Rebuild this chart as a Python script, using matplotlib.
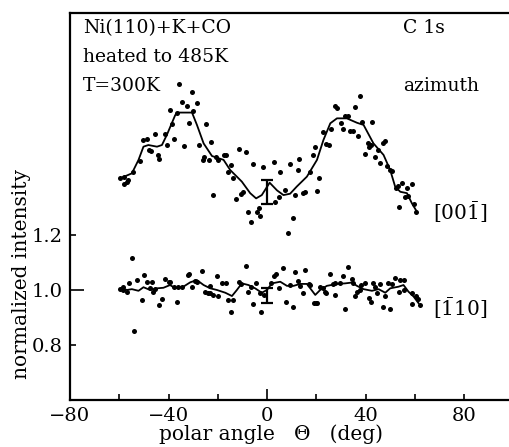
import matplotlib.pyplot as plt

plt.rcParams['font.family'] = ['DejaVu Serif']
plt.rcParams['mathtext.fontset'] = 'dejavuserif'

# [001] azimuth (offset upward), measured points
ang_001 = [-35.6, -30.5, -34.6, -32.6, -28.5, -39.6, -36.6, -29.9, -31.6, -24.7,
           -38.7, -41.4, -45.4, -37.7, -33.7, -40.7, -48.8, -50.2, -27.5, -22.8,
           -47.2, -48.1, -44.5, -43.7, -51.8, -25.8, -26.1, -23.8, -20.7, -20.0,
           -54.5, -59.6, -58.0, -56.9, -57.9, -56.3, -21.8,
           -17.7, -16.6, -14.7, -15.7, -13.7, -11.6, -8.5, -5.6, -1.7, 2.6,
           5.3, 9.3, 13.1, 12.3, 18.5, 19.5, -9.9, -10.7, -12.6, -7.8,
           -4.2, -3.5, -2.8, -6.6, 3.2, 4.6, 7.3, 10.4, 8.4, 11.4,
           14.7, 15.4, 17.4, 20.4, 21.2,
           37.7, 27.6, 28.3, 35.7, 31.6, 32.6, 29.9, 38.4, 42.5, 25.8,
           30.6, 33.7, 34.8, 36.8, 22.6, 23.9, 24.9, 40.7, 41.5, 42.1,
           47.9, 46.9, 39.8, 43.8, 45.8, 44.9, 48.8, 49.9, 50.6, 52.3,
           52.9, 54.6, 56.6, 58.7, 56.0, 57.3, 53.6, 59.6, 60.5]
int_001 = [1.749, 1.721, 1.683, 1.670, 1.679, 1.655, 1.643, 1.652, 1.606, 1.604,
           1.604, 1.567, 1.566, 1.548, 1.525, 1.527, 1.549, 1.545, 1.527, 1.539,
           1.507, 1.509, 1.491, 1.475, 1.470, 1.483, 1.473, 1.473, 1.483, 1.473,
           1.430, 1.406, 1.410, 1.394, 1.385, 1.400, 1.345,
           1.490, 1.490, 1.455, 1.428, 1.406, 1.513, 1.503, 1.457, 1.448, 1.464,
           1.430, 1.458, 1.476, 1.436, 1.491, 1.519, 1.357, 1.349, 1.330, 1.285,
           1.285, 1.297, 1.269, 1.248, 1.321, 1.339, 1.364, 1.261, 1.208, 1.345,
           1.352, 1.357, 1.430, 1.360, 1.406,
           1.705, 1.669, 1.661, 1.667, 1.633, 1.633, 1.608, 1.612, 1.612, 1.584,
           1.584, 1.579, 1.579, 1.561, 1.573, 1.531, 1.527, 1.533, 1.521, 1.527,
           1.543, 1.533, 1.495, 1.485, 1.463, 1.509, 1.451, 1.436, 1.434, 1.370,
           1.378, 1.390, 1.370, 1.385, 1.339, 1.342, 1.301, 1.313, 1.285]

# [001] smoothed curve
fit_ang_001 = [-59.6, -54.9, -52.2, -50.2, -48.2, -44.7, -42.7, -40.7, -37.3, -36.0,
               -30.5, -28.5, -25.8, -22.4, -17.7, -15.0, -10.3, -6.9, -4.5, -2.2,
               1.0, 4.0, 6.6, 9.3, 12.0, 16.1, 20.2, 22.8, 25.6, 28.3,
               32.3, 36.4, 39.1, 43.1, 47.2, 49.9, 51.9, 54.0, 56.7, 58.7, 60.7]
fit_int_001 = [1.406, 1.424, 1.473, 1.521, 1.527, 1.521, 1.527, 1.564, 1.636, 1.645,
               1.645, 1.600, 1.533, 1.487, 1.473, 1.436, 1.394, 1.352, 1.333, 1.345,
               1.390, 1.362, 1.345, 1.350, 1.376, 1.412, 1.473, 1.545, 1.606, 1.624,
               1.624, 1.608, 1.600, 1.533, 1.491, 1.436, 1.376, 1.357, 1.352, 1.315, 1.285]

# [1-10] azimuth, measured points
ang_110 = [-59.6, -54.9, -54.0, -58.3, -58.5, -56.9, -55.9, -52.9, -49.8, -48.8, -46.8,
           -50.8, -47.5, -46.4, -45.4, -42.7, -43.7, -41.4, -40.0, -39.4, -36.6,
           -38.0, -36.0, -34.6, -32.3, -31.6, -26.5, -30.5, -29.2, -28.3, -23.4,
           -20.4, -25.2, -24.2, -23.1, -21.8, -19.8, -18.4, -16.6, -15.7, -13.9,
           -14.6, -11.6, -10.7, -8.5, -7.6, -6.6, -5.6, -4.5, -2.6, -3.1,
           -1.5, 1.5, 2.6, 3.7, 6.4, 4.6, 7.7, 10.4, 11.4, 15.4,
           12.3, 14.5, 9.3, 13.4, 16.8, 17.4, 18.8, 19.9, 20.4, 21.5,
           22.6, 23.5, 23.9, 25.6, 26.6, 27.6, 29.6, 27.6, 30.7, 32.7,
           34.4, 34.8, 31.6, 36.4, 35.7, 37.7, 38.0, 39.8, 41.1, 42.1,
           42.9, 43.8, 45.8, 44.5, 47.9, 46.9, 49.9, 49.2, 50.6, 51.9,
           54.0, 55.7, 53.3, 55.3, 58.7, 60.4, 61.0, 58.7, 62.1]
int_110 = [1.003, 1.115, 0.852, 1.012, 1.000, 0.994, 1.024, 1.036, 1.053, 1.030, 1.028,
           0.964, 1.006, 0.994, 1.003, 0.966, 0.945, 1.039, 1.030, 1.028, 0.958,
           1.010, 1.012, 1.010, 1.055, 1.057, 1.070, 1.010, 1.034, 1.028, 1.015,
           1.051, 0.994, 0.988, 0.988, 0.982, 0.978, 1.024, 1.027, 0.964, 0.964,
           0.919, 1.028, 1.022, 1.087, 0.994, 1.012, 0.949, 1.027, 0.919, 0.988,
           0.982, 1.027, 1.051, 1.058, 1.079, 1.006, 0.955, 0.937, 1.067, 1.073,
           1.033, 0.988, 1.018, 1.016, 1.022, 1.017, 0.954, 0.954, 0.954, 1.012,
           1.006, 0.994, 0.988, 1.058, 1.022, 1.024, 1.024, 0.982, 1.051, 1.083,
           1.039, 1.024, 0.931, 0.994, 0.978, 1.000, 1.018, 1.024, 0.970, 0.955,
           1.024, 1.012, 1.021, 0.990, 0.978, 0.939, 0.930, 1.024, 1.021, 1.042,
           1.036, 1.036, 0.994, 1.000, 0.988, 0.978, 0.966, 0.949, 0.945]

# [1-10] smoothed curve
fit_ang_110 = [-58.9, -56.9, -54.9, -52.2, -50.2, -47.5, -44.7, -42.1, -39.4, -37.3,
               -34.0, -31.2, -28.5, -25.8, -23.1, -20.4, -17.0, -14.3, -12.3, -10.3,
               -7.6, -4.9, -2.2, -0.1, 1.9, 5.3, 8.0, 10.7, 13.4, 16.1,
               19.5, 21.5, 24.2, 28.3, 31.6, 34.4, 36.4, 39.1, 42.5, 45.2,
               47.9, 49.9, 53.3, 55.3, 57.3, 59.4, 61.4]
fit_int_110 = [1.006, 1.000, 1.003, 0.997, 1.010, 1.000, 1.006, 1.008, 1.018, 1.006,
               1.012, 1.028, 1.036, 1.018, 1.006, 1.000, 0.990, 0.978, 1.000, 1.024,
               1.018, 1.006, 0.990, 1.000, 1.024, 1.030, 1.015, 1.015, 1.022, 1.022,
               0.982, 1.000, 1.015, 1.022, 1.024, 1.027, 1.015, 1.003, 0.997, 1.003,
               0.990, 1.006, 1.012, 1.018, 0.994, 0.976, 0.952]

# error bars at normal emission
err_ang = [0.0, 0.0]
err_int = [1.356, 0.981]
err_half = [0.044, 0.027]

fig = plt.figure(figsize=(5.1, 4.47), dpi=100)
ax = fig.add_axes([70 / 510, 47 / 447, 440 / 510, 387 / 447])

ax.scatter(ang_001, int_001, s=13, color='black', linewidths=0)
ax.scatter(ang_110, int_110, s=13, color='black', linewidths=0)
ax.plot(fit_ang_001, fit_int_001, color='black', lw=1.3)
ax.plot(fit_ang_110, fit_int_110, color='black', lw=1.3)
ax.errorbar(err_ang, err_int, yerr=err_half, fmt='none', ecolor='black',
            elinewidth=1.6, capsize=4, capthick=1.6)

ax.set_xlim(-80, 98.5)
ax.set_ylim(0.6, 2.007)

for side in ['left', 'bottom', 'top']:
    ax.spines[side].set_linewidth(1.6)
ax.spines['right'].set_visible(False)

ax.set_xticks([-80, -60, -40, -20, 0, 20, 40, 60, 80])
ax.set_xticklabels(['\u221280', '', '\u221240', '', '0', '', '40', '', '80'])
ax.set_yticks([0.8, 1.0, 1.2])
ax.set_yticklabels(['0.8', '1.0', '1.2'])
ax.tick_params(direction='in', length=4, width=1.2, labelsize=14, pad=5)
ax.tick_params(top=False, right=False)
ax.xaxis.get_major_ticks()[4].tick1line.set_markersize(8)
ax.yaxis.get_major_ticks()[1].tick1line.set_markersize(10)

ax.set_xlabel('polar angle   \u0398   (deg)', fontsize=14.5)
ax.set_ylabel('normalized intensity', fontsize=14.5)
ax.xaxis.set_label_coords(0.457, -0.064)
ax.yaxis.set_label_coords(-0.088, 0.326)

tf = ax.transAxes
ax.text(0.03, 0.961, 'Ni(110)+K+CO', transform=tf, fontsize=13.5, va='center')
ax.text(0.03, 0.886, 'heated to 485K', transform=tf, fontsize=13.5, va='center')
ax.text(0.03, 0.811, 'T=300K', transform=tf, fontsize=13.5, va='center')
ax.text(0.757, 0.961, 'C 1s', transform=tf, fontsize=13.5, va='center')
ax.text(0.757, 0.811, 'azimuth', transform=tf, fontsize=13.5, va='center')
ax.text(0.825, 0.485, r'[00$\bar{1}$]', transform=tf, fontsize=14.5, va='center')
ax.text(0.825, 0.238, r'[$\bar{1}$10]', transform=tf, fontsize=14.5, va='center')

fig.savefig('out.png', dpi=100)
